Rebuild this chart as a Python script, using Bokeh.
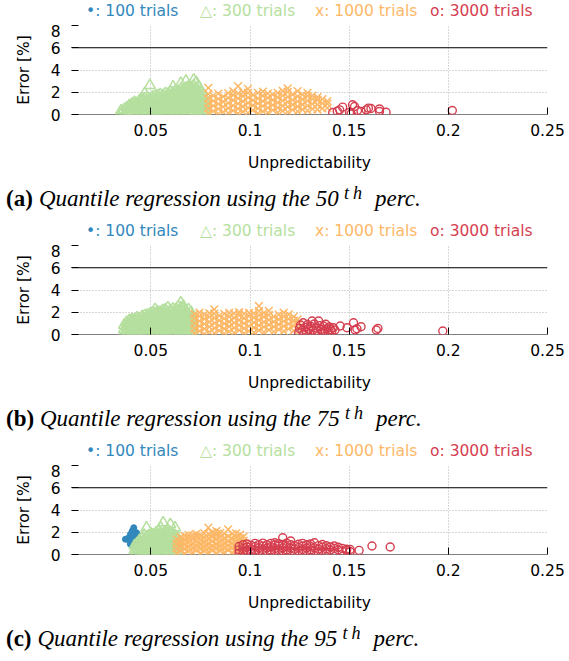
from bokeh.plotting import figure
from bokeh.layouts import column
from bokeh.models import Range1d, Span, FixedTicker, NumeralTickFormatter, Div
from bokeh.embed import file_html
from bokeh.resources import INLINE

# ---------------- data ----------------
X_TICKS = [0.05, 0.1, 0.15, 0.2, 0.25]
Y_TICKS = [0, 2, 4, 6, 8]
THRESHOLD = 6
X_LABEL = "Unpredictability"
Y_LABEL = "Error [%]"
LEGEND_TEXTS = ["\u2022: 100 trials", "\u25b3: 300 trials", "x: 1000 trials", "o: 3000 trials"]
CAPTION_TAGS = ["(a)", "(b)", "(c)"]
CAPTION_MAIN = ["Quantile regression using the 50", "Quantile regression using the 75",
                "Quantile regression using the 95"]
CAPTION_SUP = ["t", "h"]
CAPTION_END = "perc."

# each cloud: columns of (unpredictability, [errors])
A_BLUE = []
A_GREEN = [
    (0.0350, [0.12, 0.35]), (0.0365, [0.05, 0.45]), (0.0378, [0.25, 0.62]),
    (0.0391, [0.08, 0.48, 0.80]), (0.0404, [0.30, 0.66, 0.95]), (0.0417, [0.02, 0.52, 0.88, 1.10]),
    (0.0430, [0.18, 0.70, 1.02, 0.40]), (0.0443, [0.05, 0.55, 0.92, 1.25]),
    (0.0456, [0.28, 0.75, 1.15, 1.38]), (0.0469, [0.10, 0.50, 1.00, 1.45, 1.90]),
    (0.0482, [0.35, 0.82, 1.22, 1.52]), (0.0495, [0.04, 0.60, 1.05, 1.40, 2.62]),
    (0.0508, [0.22, 0.68, 1.18, 1.58]), (0.0521, [0.08, 0.45, 0.95, 1.35, 1.66]),
    (0.0534, [0.30, 0.78, 1.25, 1.72, 0.02]), (0.0547, [0.15, 0.58, 1.02, 1.48, 1.80]),
    (0.0560, [0.40, 0.88, 1.32, 1.70, 0.05]), (0.0573, [0.20, 0.65, 1.12, 1.55, 1.88]),
    (0.0586, [0.08, 0.50, 0.96, 1.42, 1.84]), (0.0599, [0.32, 0.78, 1.25, 1.70, 2.02]),
    (0.0612, [0.12, 0.58, 1.05, 1.52, 1.95, 2.50]), (0.0625, [0.02, 0.42, 0.90, 1.38, 1.85, 2.15]),
    (0.0638, [0.25, 0.70, 1.18, 1.65, 2.10]), (0.0651, [0.10, 0.55, 1.00, 1.48, 1.98, 2.30, 2.80]),
    (0.0664, [0.35, 0.82, 1.30, 1.78, 2.22]), (0.0677, [0.05, 0.48, 0.95, 1.42, 1.90, 2.38, 3.02]),
    (0.0690, [0.22, 0.70, 1.15, 1.62, 2.10, 2.50]), (0.0703, [0.12, 0.58, 1.05, 1.52, 2.00, 2.45]),
    (0.0716, [0.30, 0.78, 1.25, 1.72, 2.20, 2.60, 3.10]),
    (0.0729, [0.02, 0.45, 0.92, 1.40, 1.88, 2.35, 2.90]),
    (0.0742, [0.20, 0.68, 1.12, 1.60, 2.05, 2.50]), (0.0755, [0.08, 0.55, 1.00, 1.48, 1.95]),
    (0.0768, [0.30, 0.78, 1.25, 1.70, 0.00]), (0.0780, [0.12, 0.60, 1.05]),
]
A_ORANGE = [
    (0.0790, [0.10, 0.55, 1.00, 1.45, 1.85, 2.40]), (0.0815, [0.30, 0.78, 1.22, 1.70]),
    (0.0840, [0.05, 0.50, 0.95, 1.40, 1.88]), (0.0865, [0.22, 0.68, 1.15, 1.60]),
    (0.0890, [0.12, 0.58, 1.02, 1.50, 1.92]), (0.0915, [0.35, 0.80, 1.28, 1.75, 2.10]),
    (0.0940, [0.08, 0.52, 0.98, 1.45, 1.90, 2.55]), (0.0965, [0.25, 0.72, 1.18, 1.65, 2.00]),
    (0.0990, [0.15, 0.60, 1.05, 1.52, 1.95, 2.30]), (0.1015, [0.38, 0.82, 1.28, 1.75]),
    (0.1040, [0.10, 0.55, 1.00, 1.45, 1.95]), (0.1065, [0.28, 0.75, 1.20, 1.68, 2.05]),
    (0.1090, [0.15, 0.60, 1.05, 1.50, 1.88]), (0.1115, [0.40, 0.85, 1.30, 1.78]),
    (0.1140, [0.18, 0.62, 1.08, 1.55, 1.95]), (0.1165, [0.32, 0.78, 1.25, 1.70, 2.12]),
    (0.1190, [0.22, 0.68, 1.12, 1.58, 2.02, 2.35]), (0.1215, [0.42, 0.88, 1.32, 1.80]),
    (0.1240, [0.28, 0.72, 1.18, 1.62, 2.10]), (0.1265, [0.45, 0.90, 1.35, 1.78]),
    (0.1290, [0.35, 0.80, 1.25, 1.65, 1.95]), (0.1315, [0.50, 0.95, 1.40, 1.70]),
    (0.1340, [0.45, 0.88, 1.30, 1.55]), (0.1365, [0.55, 1.00, 1.38]), (0.1390, [0.60, 0.95, 1.20]),
]
A_RED = [
    (0.1417, [0.18]), (0.1440, [0.30]), (0.1452, [0.42]), (0.1467, [0.66]), (0.1502, [0.18]),
    (0.1510, [0.05]), (0.1517, [0.87]), (0.1527, [0.72]), (0.1542, [0.36]), (0.1560, [0.27]),
    (0.1586, [0.42]), (0.1597, [0.57]), (0.1610, [0.54]), (0.1653, [0.27, 0.50]), (0.1686, [0.20]),
    (0.2020, [0.36]),
]

B_BLUE = []
B_GREEN = [
    (0.0365, [0.10, 0.45, 0.85]), (0.0378, [0.02, 0.30, 0.70, 1.10]),
    (0.0391, [0.18, 0.55, 0.95, 1.25]), (0.0404, [0.05, 0.40, 0.80, 1.15, 1.38]),
    (0.0417, [0.25, 0.65, 1.02, 1.32]), (0.0430, [0.10, 0.50, 0.90, 1.25, 1.50]),
    (0.0443, [0.32, 0.72, 1.10, 1.45]), (0.0456, [0.05, 0.45, 0.85, 1.22, 1.62]),
    (0.0469, [0.22, 0.62, 1.00, 1.40, 1.70]), (0.0482, [0.12, 0.50, 0.90, 1.30, 1.75]),
    (0.0495, [0.35, 0.75, 1.15, 1.55, 1.85]), (0.0508, [0.08, 0.48, 0.88, 1.28, 1.68, 1.95]),
    (0.0521, [0.25, 0.65, 1.05, 1.45, 1.90, 2.26]), (0.0534, [0.15, 0.55, 0.95, 1.35, 1.78, 2.05]),
    (0.0547, [0.02, 0.40, 0.80, 1.20, 1.62, 2.00]), (0.0560, [0.28, 0.68, 1.08, 1.50, 1.92, 2.15]),
    (0.0573, [0.12, 0.52, 0.92, 1.35, 1.80, 2.22]), (0.0586, [0.35, 0.75, 1.15, 1.58, 2.00, 2.41]),
    (0.0599, [0.08, 0.48, 0.88, 1.30, 1.72, 2.18]), (0.0612, [0.25, 0.65, 1.05, 1.48, 1.90, 2.30]),
    (0.0625, [0.15, 0.55, 0.95, 1.38, 1.82, 2.25]),
    (0.0638, [0.02, 0.40, 0.82, 1.25, 1.68, 2.12, 2.50]),
    (0.0651, [0.30, 0.70, 1.12, 1.55, 2.00, 2.40, 2.86]),
    (0.0664, [0.12, 0.52, 0.95, 1.40, 1.85, 2.30, 2.56]),
    (0.0677, [0.35, 0.78, 1.20, 1.65, 2.10]), (0.0690, [0.10, 0.50, 0.92, 1.35, 1.80, 2.25]),
    (0.0703, [0.28, 0.70, 1.12, 1.58, 2.00]), (0.0716, [0.15, 0.58, 1.00, 1.45]),
]
B_ORANGE = [
    (0.0720, [0.10, 0.55, 1.00, 1.45, 1.85]), (0.0745, [0.30, 0.75, 1.20, 1.65, 1.96]),
    (0.0770, [0.05, 0.50, 0.95, 1.40, 1.80]), (0.0795, [0.22, 0.68, 1.12, 1.58, 1.92]),
    (0.0820, [0.12, 0.58, 1.02, 1.48, 1.88, 2.26]), (0.0845, [0.35, 0.80, 1.25, 1.70]),
    (0.0870, [0.08, 0.52, 0.98, 1.42, 1.85]), (0.0895, [0.25, 0.72, 1.15, 1.60, 1.95]),
    (0.0920, [0.15, 0.60, 1.05, 1.50, 1.90]), (0.0945, [0.40, 0.85, 1.30, 1.75, 2.00]),
    (0.0970, [0.10, 0.55, 1.00, 1.45, 1.88]), (0.0995, [0.30, 0.75, 1.20, 1.65, 1.95]),
    (0.1020, [0.18, 0.62, 1.08, 1.52, 1.90]), (0.1045, [0.38, 0.82, 1.28, 1.72, 2.10, 2.56]),
    (0.1070, [0.22, 0.68, 1.12, 1.58, 1.95]), (0.1095, [0.42, 0.88, 1.32, 1.75, 2.12]),
    (0.1120, [0.25, 0.70, 1.15, 1.60]), (0.1145, [0.45, 0.90, 1.35, 1.78]),
    (0.1170, [0.30, 0.75, 1.20, 1.62, 1.96]), (0.1195, [0.50, 0.95, 1.40, 1.80]),
    (0.1220, [0.35, 0.80, 1.25, 1.60]), (0.1240, [0.55, 1.00, 1.35]),
]
B_RED = [
    (0.1245, [0.15]), (0.1250, [0.55]), (0.1255, [0.85]), (0.1262, [0.35]), (0.1268, [1.06]),
    (0.1272, [0.05]), (0.1278, [0.65]), (0.1285, [0.25]), (0.1290, [0.90]), (0.1296, [0.45]),
    (0.1302, [0.12]), (0.1308, [0.72]), (0.1313, [1.21]), (0.1318, [0.38]), (0.1324, [0.95]),
    (0.1330, [0.08]), (0.1335, [0.58]), (0.1341, [0.28]), (0.1346, [1.21]), (0.1352, [0.80]),
    (0.1358, [0.45]), (0.1364, [0.15]), (0.1370, [0.76]), (0.1376, [0.35]), (0.1382, [0.92]),
    (0.1388, [0.52]), (0.1394, [0.20]), (0.1400, [0.68]), (0.1405, [0.46]), (0.1412, [0.30]),
    (0.1420, [0.61]), (0.1428, [0.40]), (0.1455, [0.76]), (0.1489, [0.61]), (0.1522, [1.06]),
    (0.1530, [0.40]), (0.1539, [0.52]), (0.1560, [0.70]), (0.1637, [0.40]), (0.1645, [0.55]),
    (0.1972, [0.31]),
]

C_BLUE = [
    (0.0414, [2.41, 1.37]), (0.0406, [2.11]), (0.0428, [1.96]), (0.0397, [1.81, 0.92]),
    (0.0430, [1.66, 1.21]), (0.0422, [1.51, 0.76]), (0.0372, [1.37]), (0.0385, [1.45]),
    (0.0405, [1.10]), (0.0440, [0.47]), (0.0418, [1.75]), (0.0437, [1.40]), (0.0392, [1.25]),
]
C_GREEN = [
    (0.0418, [0.05, 0.40, 0.80]), (0.0430, [0.20, 0.60, 1.00]), (0.0442, [0.08, 0.45, 0.85, 1.25]),
    (0.0454, [0.28, 0.68, 1.08, 1.50]), (0.0466, [0.12, 0.52, 0.92, 1.35, 1.75]),
    (0.0478, [0.35, 0.75, 1.15, 1.58, 2.41]), (0.0490, [0.05, 0.45, 0.88, 1.30, 1.70]),
    (0.0502, [0.22, 0.62, 1.05, 1.48, 1.85]), (0.0514, [0.12, 0.52, 0.95, 1.38, 1.78]),
    (0.0526, [0.30, 0.72, 1.15, 1.58, 1.95]), (0.0538, [0.08, 0.48, 0.90, 1.32, 1.75, 2.10]),
    (0.0550, [0.25, 0.65, 1.08, 1.52, 1.92, 2.40]), (0.0562, [0.15, 0.55, 0.98, 1.42, 1.85, 2.86]),
    (0.0574, [0.35, 0.78, 1.20, 1.62, 2.00]), (0.0586, [0.10, 0.50, 0.92, 1.35, 1.80, 2.20]),
    (0.0598, [0.28, 0.70, 1.12, 1.55, 1.98, 2.71]), (0.0610, [0.18, 0.60, 1.02, 1.45, 1.88]),
    (0.0622, [0.05, 0.42, 0.85, 1.28, 1.70, 2.41]), (0.0634, [0.30, 0.72, 1.15, 1.58]),
]
C_ORANGE = [
    (0.0630, [0.15, 0.55, 0.95, 1.35]), (0.0650, [0.35, 0.75, 1.15, 1.55]),
    (0.0670, [0.10, 0.50, 0.90, 1.30, 1.68]), (0.0690, [0.28, 0.68, 1.08, 1.48, 1.75]),
    (0.0710, [0.18, 0.58, 0.98, 1.40, 1.70]), (0.0730, [0.40, 0.80, 1.20, 1.60, 1.85]),
    (0.0750, [0.12, 0.52, 0.92, 1.32, 1.72]), (0.0770, [0.30, 0.70, 1.10, 1.52, 1.90]),
    (0.0790, [0.20, 0.60, 1.00, 1.42, 1.85, 2.41]), (0.0810, [0.38, 0.78, 1.18, 1.60, 1.98]),
    (0.0830, [0.15, 0.55, 0.95, 1.38, 1.80, 2.11]), (0.0850, [0.32, 0.72, 1.12, 1.55, 1.95]),
    (0.0870, [0.22, 0.62, 1.02, 1.45, 1.88]), (0.0890, [0.42, 0.82, 1.22, 1.65, 2.26]),
    (0.0910, [0.18, 0.58, 0.98, 1.40, 1.85]), (0.0930, [0.35, 0.75, 1.15, 1.55, 1.90]),
    (0.0950, [0.25, 0.65, 1.05, 1.45, 1.78]), (0.0968, [0.45, 0.85, 1.25, 1.60]),
]
C_RED = [
    (0.0945, [0.12, 0.42, 0.72]), (0.0965, [0.25, 0.55, 0.88]), (0.0985, [0.08, 0.38, 0.68, 0.95]),
    (0.1005, [0.22, 0.52, 0.82]), (0.1025, [0.12, 0.42, 0.72, 1.00]), (0.1045, [0.30, 0.60, 0.90]),
    (0.1065, [0.15, 0.45, 0.75, 1.02]), (0.1085, [0.28, 0.58, 0.88]),
    (0.1105, [0.10, 0.40, 0.70, 1.00]), (0.1125, [0.25, 0.55, 0.85, 1.06]),
    (0.1145, [0.15, 0.45, 0.75, 0.98]), (0.1165, [0.30, 0.60, 0.90, 1.51]),
    (0.1185, [0.12, 0.42, 0.72, 1.02]), (0.1205, [0.28, 0.58, 0.88, 1.21]),
    (0.1225, [0.18, 0.48, 0.78]), (0.1245, [0.32, 0.62, 0.92]), (0.1265, [0.15, 0.45, 0.75, 1.00]),
    (0.1285, [0.28, 0.58, 0.88]), (0.1305, [0.12, 0.42, 0.72, 0.95]), (0.1325, [0.30, 0.60, 1.06]),
    (0.1345, [0.18, 0.48, 0.80]), (0.1365, [0.35, 0.65, 0.90]), (0.1385, [0.22, 0.52, 0.78]),
    (0.1405, [0.38, 0.68]), (0.1425, [0.25, 0.55, 0.76]), (0.1445, [0.40, 0.65]),
    (0.1465, [0.28, 0.55]), (0.1487, [0.35, 0.47]), (0.1505, [0.25, 0.45]), (0.1550, [0.37]),
    (0.1615, [0.76]), (0.1707, [0.67]),
]

PANELS = [
    (A_BLUE, A_GREEN, A_ORANGE, A_RED),
    (B_BLUE, B_GREEN, B_ORANGE, B_RED),
    (C_BLUE, C_GREEN, C_ORANGE, C_RED),
]

# ---------------- style ----------------
BLUE, GREEN, ORANGE, RED = "#3288bd", "#b5df9e", "#fdb867", "#d53e4f"
COLORS = [BLUE, GREEN, ORANGE, RED]
SANS = "DejaVu Sans"
SERIF = "Liberation Serif"
W = 569
HEAD_H, MAIN_H, CAP_H = 24, 156, 40
FL, FR, FT, FB = 71, 22, 1, 66
X0, X1, Y0, Y1 = 0.01, 0.25, 0, 8

LEGEND_PX = [86, 200, 315, 430]
ITALIC_PX = [39, 40, 37.5]


def expand(cols):
    xs, ys = [], []
    for xv, yl in cols:
        for yv in yl:
            xs.append(xv)
            ys.append(yv)
    return xs, ys


def span(txt, left, top, size, family, color="black", style="normal", weight="normal"):
    return (f"<span style=\"position:absolute;left:{left}px;top:{top}px;white-space:pre;"
            f"font-family:'{family}';font-size:{size}px;line-height:{size}px;color:{color};"
            f"font-style:{style};font-weight:{weight};\">{txt}</span>")


def strip(h, spans):
    html = (f"<div style=\"position:relative;width:{W}px;height:{h}px;margin:0;padding:0;"
            f"background:white;\">" + "".join(spans) + "</div>")
    return Div(text=html, width=W, height=h, margin=0)


items = []
for k, (blue, green, orange, red) in enumerate(PANELS):
    # legend strip
    items.append(strip(HEAD_H, [span(t, x, 4, 15.5, SANS, c)
                                for t, x, c in zip(LEGEND_TEXTS, LEGEND_PX, COLORS)]))

    p = figure(width=W, height=MAIN_H, x_range=Range1d(X0, X1), y_range=Range1d(Y0, Y1),
               output_backend="svg", toolbar_location=None,
               min_border_left=FL, min_border_right=FR, min_border_top=FT, min_border_bottom=FB)
    p.outline_line_color = None
    p.background_fill_color = "white"
    p.border_fill_color = "white"
    for ax in (p.xaxis[0], p.yaxis[0]):
        ax.axis_line_color = None
        ax.major_tick_in = 7
        ax.major_tick_out = 0
        ax.minor_tick_in = 0
        ax.minor_tick_out = 0
        ax.major_tick_line_color = "black"
        ax.major_label_text_font = SANS
        ax.major_label_text_font_size = "15.5px"
        ax.major_label_text_color = "black"
        ax.axis_label_text_font = SANS
        ax.axis_label_text_font_size = "15.5px"
        ax.axis_label_text_font_style = "normal"
        ax.axis_label_text_color = "black"
    p.xaxis.ticker = FixedTicker(ticks=X_TICKS)
    p.xaxis.formatter = NumeralTickFormatter(format="0.[00]")
    p.yaxis.ticker = FixedTicker(ticks=Y_TICKS)
    p.xaxis.axis_label = X_LABEL
    p.yaxis.axis_label = Y_LABEL
    p.xaxis.major_label_standoff = 9
    p.yaxis.major_label_standoff = 11
    p.xaxis.axis_label_standoff = 15
    p.yaxis.axis_label_standoff = 15
    for g in (p.xgrid[0], p.ygrid[0]):
        g.grid_line_color = "#b0b0b0"
        g.grid_line_dash = "1 2"
        g.grid_line_width = 1

    p.add_layout(Span(location=0, dimension="width", line_color="black", line_width=1.2,
                      level="underlay"))
    p.add_layout(Span(location=THRESHOLD, dimension="width", line_color="black", line_width=1,
                      level="underlay"))

    bx, by = expand(blue)
    gx, gy = expand(green)
    ox, oy = expand(orange)
    rx, ry = expand(red)
    if bx:
        p.scatter(bx, by, marker="circle", size=6, fill_color=BLUE, line_color=BLUE)
    p.scatter(gx, gy, marker="triangle", size=11, fill_color=None, line_color=GREEN,
              line_width=1.5)
    p.scatter(ox, oy, marker="x", size=11, line_color=ORANGE, line_width=1.5)
    p.scatter(rx, ry, marker="circle", size=8, fill_color=None, line_color=RED, line_width=1.4)
    items.append(p)

    # caption strip
    ix = ITALIC_PX[k]
    items.append(strip(CAP_H, [
        span(CAPTION_TAGS[k], 6, 6.7, 23, SERIF, weight="bold"),
        span(CAPTION_MAIN[k], ix, 6.7, 23, SERIF, style="italic"),
        span(CAPTION_SUP[0], ix + 305, 3.5, 18, SERIF, style="italic"),
        span(CAPTION_SUP[1], ix + 314, 3.5, 18, SERIF, style="italic"),
        span(CAPTION_END, ix + 336, 6.7, 23, SERIF, style="italic"),
    ]))

layout = column(*items, spacing=0)
open("out.html", "w").write(file_html(layout, INLINE))
